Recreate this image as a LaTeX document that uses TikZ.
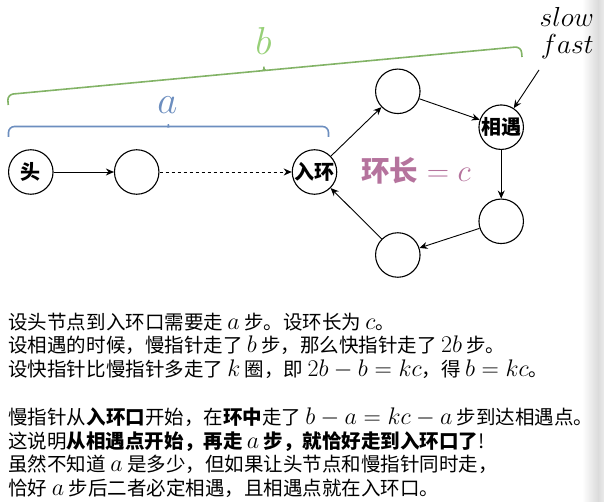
\RequirePackage{fix-cm}
\documentclass[tikz,border=0pt]{standalone}
\usepackage{fontspec}
\setmainfont{Noto Sans CJK SC}
\usetikzlibrary{arrows.meta}
\DeclareMathSizes{19.5}{24}{17}{12}
\definecolor{bluebr}{HTML}{6C8EBF}
\definecolor{greenbr}{HTML}{82B366}
\definecolor{greentx}{HTML}{97D077}
\definecolor{pinktx}{HTML}{B5739D}
\tikzset{
  nd/.style={circle, draw, line width=1.1pt, minimum size=44.5pt, inner sep=0pt,
    font=\bfseries\fontsize{20}{20}\selectfont},
  arr/.style={draw, line width=0.9pt, -{Stealth[length=8pt,width=7pt]}},
  brc/.style={line width=1.6pt, rounded corners=6pt},
  txt/.style={anchor=base west, inner sep=0pt, font=\fontsize{19.5}{24}\selectfont},
}
\begin{document}
\begin{tikzpicture}[x=1pt,y=-1pt]
\useasboundingbox (0,0) rectangle (604,502);
% right edge shading
\fill[left color=white, right color=black!14, draw=none] (582,0) rectangle (598,502);
\fill[left color=black!14, right color=black!8, draw=none] (598,0) rectangle (604,502);

% braces
\draw[brc, bluebr] (8.5,137) -- (8.5,126.5) -- (162,126.5)
  .. controls (166,126.5) and (168.3,125) .. (168.3,120.5)
  .. controls (168.3,125) and (170.6,126.5) .. (174.6,126.5)
  -- (328.5,126.5) -- (328.5,137);
\begin{scope}[shift={(8.3,105)}, rotate=5.34]
\draw[brc, greenbr] (0,0) -- (0,-10.5) -- (252,-10.5)
  .. controls (256,-10.5) and (258,-12) .. (258,-18)
  .. controls (258,-12) and (260,-10.5) .. (264,-10.5)
  -- (516,-10.5) -- (516,0);
\end{scope}
\node[anchor=base, inner sep=0pt, text=bluebr, font=\fontsize{39}{40}\selectfont] (la) at (167.5,113.3) {$a$};
\node[anchor=base, inner sep=0pt, text=greentx, font=\fontsize{39}{40}\selectfont] (lb) at (263.5,55) {$b$};

% nodes
\node[nd] (h) at (30.8,172) {头};
\node[nd] (n2) at (136.7,172) {};
\node[nd] (e) at (314.5,172) {入环};
\node[nd] (t) at (397.8,91.3) {};
\node[nd] (m) at (501.2,127.2) {相遇};
\node[nd] (r) at (501.2,221.3) {};
\node[nd] (bt) at (397.8,255) {};

\draw[arr] (h) -- (n2);
\draw[arr, dash pattern=on 3pt off 3pt] (n2) -- (e);
\draw[arr] (e) -- (t);
\draw[arr] (t) -- (m);
\draw[arr] (m) -- (r);
\draw[arr] (r) -- (bt);
\draw[arr] (bt) -- (e);

% slow / fast
\node[anchor=base, inner sep=0pt, font=\fontsize{27.5}{27.5}\selectfont] (slow) at (566.7,26.7) {$slow$};
\node[anchor=base, inner sep=0pt, font=\fontsize{27.5}{27.5}\selectfont] (fast) at (567.2,53.3) {$fast$};
\coordinate (sf) at (539,70);
\draw[arr] (sf) -- (m);

% ring length
\node[anchor=base west, inner sep=0pt, text=pinktx, font=\bfseries\fontsize{28.5}{29}\selectfont] (len) at (361,181.5) {环长{\fontsize{31}{31}\selectfont${}=c$}};

% text
\node[txt] (l1) at (8.3,329) {设头节点到入环口需要走 $a$ 步。设环长为 $c$。};
\node[txt] (l2) at (8.3,352.5) {设相遇的时候，慢指针走了 $b$ 步，那么快指针走了 $2b$ 步。};
\node[txt] (l3) at (8.3,376) {设快指针比慢指针多走了 $k$ 圈，即 $2b-b=kc$，得 $b=kc$。};
\node[txt] (l4) at (8.3,424.5) {慢指针从\textbf{入环口}开始，在\textbf{环中}走了 $b-a=kc-a$ 步到达相遇点。};
\node[txt] (l5) at (8.3,448) {这说明\textbf{从相遇点开始，再走 $a$ 步，就恰好走到入环口了}!};
\node[txt] (l6) at (8.3,471.5) {虽然不知道 $a$ 是多少，但如果让头节点和慢指针同时走，};
\node[txt] (l7) at (8.3,495) {恰好 $a$ 步后二者必定相遇，且相遇点就在入环口。};
\end{tikzpicture}
\end{document}
